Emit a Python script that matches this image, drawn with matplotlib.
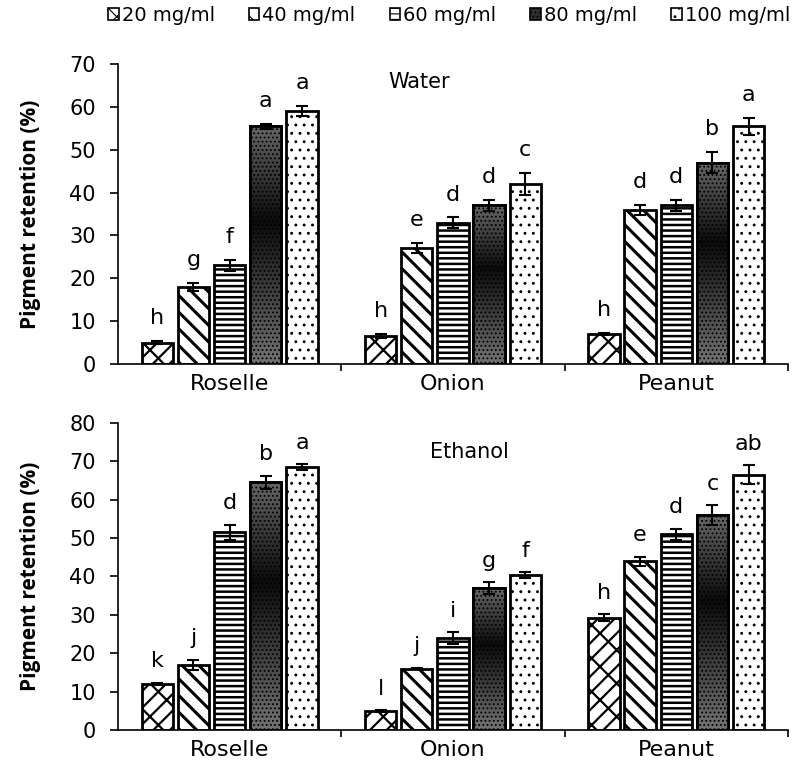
import numpy as np
import matplotlib
matplotlib.use("Agg")
import matplotlib.pyplot as plt
from matplotlib.patches import Rectangle

plt.rcParams['font.family'] = ['DejaVu Sans']
plt.rcParams['hatch.linewidth'] = 2.0

# data
sources = ['Roselle', 'Onion', 'Peanut']
doses = ['20 mg/ml', '40 mg/ml', '60 mg/ml', '80 mg/ml', '100 mg/ml']

water = [[5, 18, 23, 55.5, 59],
         [6.5, 27, 33, 37, 42],
         [7, 36, 37, 47, 55.5]]
water_err = [[0.3, 1.0, 1.2, 0.6, 1.2],
             [0.5, 1.2, 1.2, 1.2, 2.5],
             [0.3, 1.2, 1.2, 2.5, 2.0]]
water_letters = [['h', 'g', 'f', 'a', 'a'],
                 ['h', 'e', 'd', 'd', 'c'],
                 ['h', 'd', 'd', 'b', 'a']]

ethanol = [[12, 17, 51.5, 64.5, 68.5],
           [5, 16, 24, 37, 40.3],
           [29.3, 44, 51, 56, 66.5]]
ethanol_err = [[0.3, 1.3, 2.0, 1.8, 0.7],
               [0.2, 0.2, 1.5, 1.5, 0.8],
               [0.8, 1.2, 1.5, 2.5, 2.5]]
ethanol_letters = [['k', 'j', 'd', 'b', 'a'],
                   ['l', 'j', 'i', 'g', 'f'],
                   ['h', 'e', 'd', 'c', 'ab']]

hatches = ['//\\', '\\\\', '---', None, '..']
hatch_lw = [1.6, 2.2, 1.8, 0.8, 0.9]
faces = ['white', 'white', 'white', '#505050', 'white']

step = 0.162
width = 0.14

# vertical gray gradient for the 80 mg/ml bars (dark in the middle)
grad = np.concatenate([np.linspace(0.45, 0.05, 60), np.linspace(0.05, 0.4, 40)])
grad = grad[::-1].reshape(-1, 1)


def set_hlw(patch, lw):
    if hasattr(patch, 'set_hatch_linewidth'):
        patch.set_hatch_linewidth(lw)


def draw_panel(ax, vals, errs, letters, ymax, title, title_xy):
    vals = np.array(vals)
    errs = np.array(errs)
    x = np.arange(len(sources))
    for i in range(len(doses)):
        xs = x + (i - 2) * step
        with plt.rc_context({'hatch.linewidth': hatch_lw[i]}):
            bars = ax.bar(xs, vals[:, i], width, color=faces[i], edgecolor='black',
                          linewidth=2, hatch=hatches[i], zorder=2)
            for b in bars:
                set_hlw(b, hatch_lw[i])
            ax.errorbar(xs, vals[:, i], yerr=errs[:, i], fmt='none', ecolor='black',
                        elinewidth=1.5, capsize=4, capthick=1.5, zorder=4)
            if i == 3:
                for b in bars:
                    im = ax.imshow(grad, cmap='gray', vmin=0, vmax=1, aspect='auto',
                                   extent=(b.get_x(), b.get_x() + b.get_width(), 0, b.get_height()),
                                   zorder=2.5, interpolation='bilinear')
                    im.set_clip_path(b)
                    r = Rectangle((b.get_x(), 0), b.get_width(), b.get_height(),
                                  fill=False, edgecolor='black', linewidth=2,
                                  hatch='....', zorder=3)
                    set_hlw(r, hatch_lw[i])
                    ax.add_patch(r)
        for j in range(len(sources)):
            ax.text(xs[j], vals[j, i] + errs[j, i] + 3, letters[j][i],
                    ha='center', va='bottom', fontsize=16)
    ax.set_xlim(-0.5, 2.5)
    ax.set_ylim(0, ymax)
    ax.set_yticks(np.arange(0, ymax + 1, 10))
    ax.tick_params(axis='y', labelsize=15, width=1.2, length=6, pad=10)
    ax.set_xticks(x)
    ax.set_xticklabels(sources, fontsize=16)
    ax.tick_params(axis='x', length=0, pad=7)
    ax.set_xticks([0.5, 1.5, 2.5], minor=True)
    ax.tick_params(axis='x', which='minor', length=5, width=1.2, direction='out')
    for s in ['top', 'right']:
        ax.spines[s].set_visible(False)
    ax.spines['left'].set_linewidth(1.2)
    ax.spines['bottom'].set_linewidth(1.2)
    ax.set_ylabel('Pigment retention (%)', fontsize=15, fontweight='bold',
                  family=['Open Sans', 'DejaVu Sans'], labelpad=20)
    ax.text(title_xy[0], title_xy[1], title, transform=ax.transAxes, ha='center',
            va='center', fontsize=15)


fig = plt.figure(figsize=(8.12, 7.72), dpi=100)
ax1 = fig.add_axes([0.1453, 0.5285, 0.825, 0.3886])
ax2 = fig.add_axes([0.1453, 0.0544, 0.825, 0.3977])

draw_panel(ax1, water, water_err, water_letters, 70, 'Water', (0.45, 0.94))
draw_panel(ax2, ethanol, ethanol_err, ethanol_letters, 80, 'Ethanol', (0.525, 0.905))

# legend row across the top
handles = []
with plt.rc_context({'hatch.linewidth': 0.8}):
    for i in range(len(doses)):
        if i == 3:
            h = Rectangle((0, 0), 1, 1, facecolor='#303030', edgecolor='black',
                          hatch='....', linewidth=1.2)
        else:
            h = Rectangle((0, 0), 1, 1, facecolor='white', edgecolor='black',
                          hatch=hatches[i], linewidth=1.2)
        set_hlw(h, 0.8)
        handles.append(h)
    leg = fig.legend(handles, doses, loc='center', bbox_to_anchor=(0.553, 0.98), ncol=5,
                     frameon=False, fontsize=14, handlelength=0.55, handleheight=0.55,
                     handletextpad=0.15, columnspacing=1.75, borderpad=0)
    for p in leg.get_patches():
        set_hlw(p, 0.8)

fig.savefig('out.png', dpi=100)
